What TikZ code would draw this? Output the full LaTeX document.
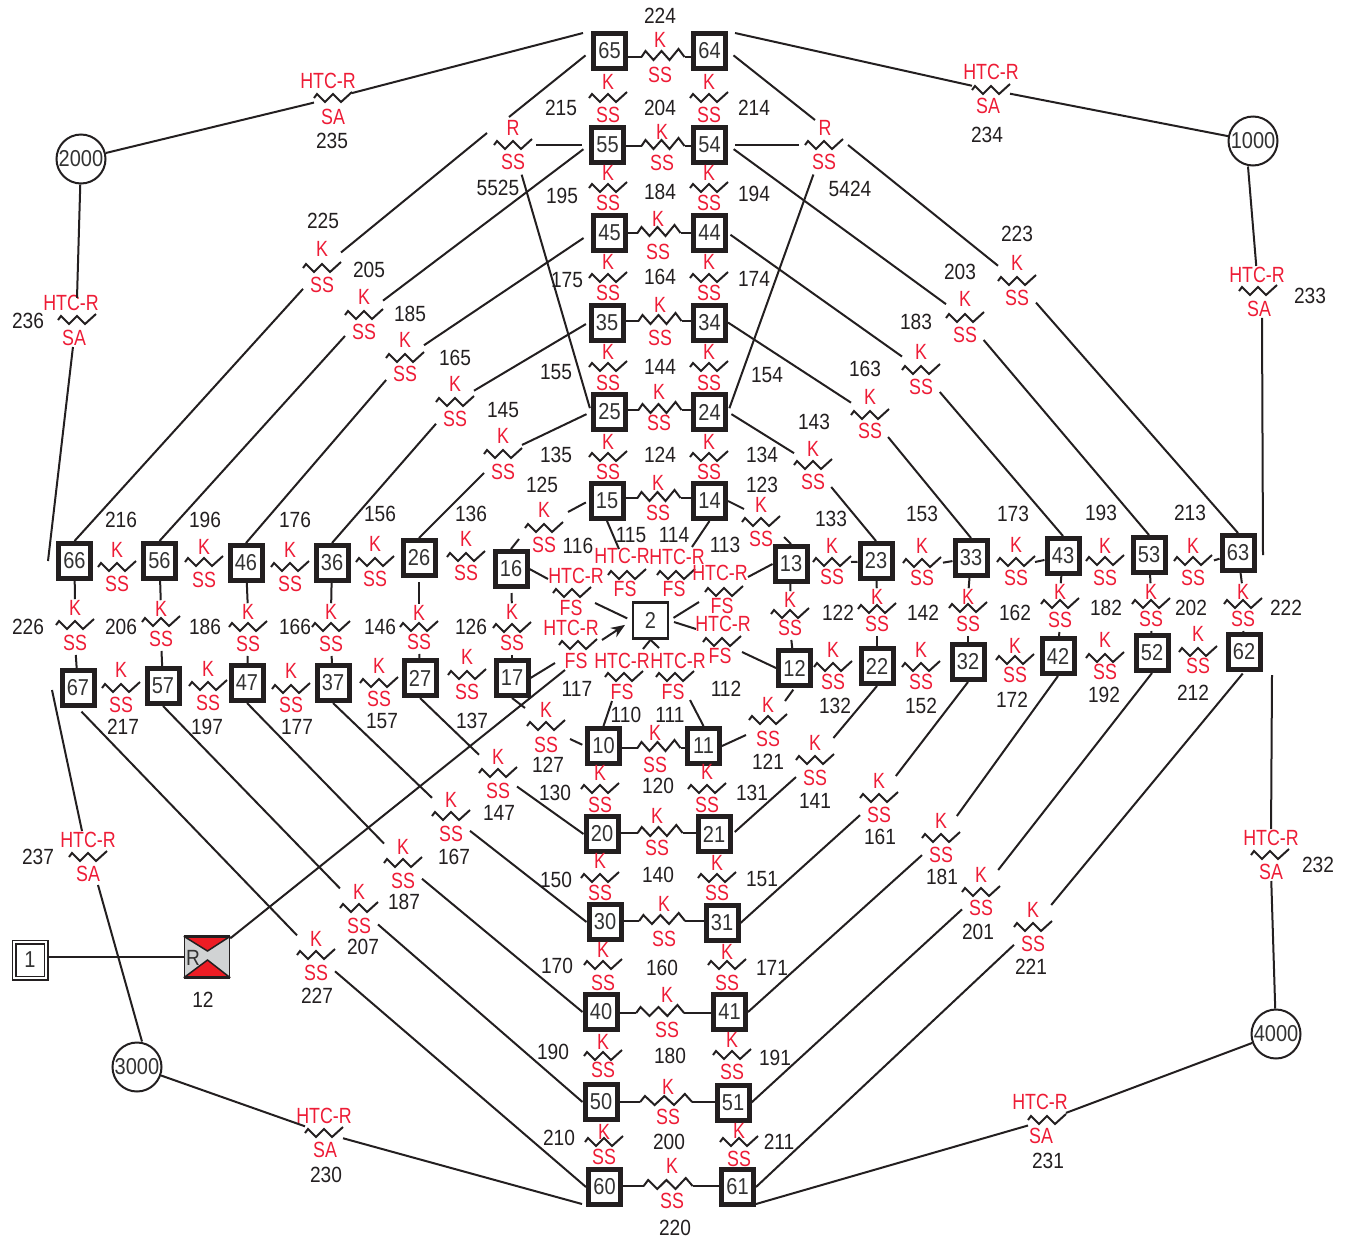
\documentclass[tikz,border=0pt]{standalone}
\usepackage{xcolor}
\usepackage{fontspec}
\usepackage{tikz}
\usetikzlibrary{arrows.meta}
\setmainfont[FakeStretch=0.87]{Liberation Sans}
\newfontfamily\redfont[FakeStretch=0.81]{Liberation Sans}
\definecolor{linedark}{HTML}{231F20}
\definecolor{textgrey}{HTML}{333333}
\definecolor{labelred}{HTML}{ED1C36}
\definecolor{valvegrey}{HTML}{D1D3D4}
\definecolor{valvered}{HTML}{ED1C24}
\tikzset{
  boxnode/.style={draw=linedark, fill=white, line width=5pt, inner sep=0pt, minimum width=32pt, minimum height=35pt, text=textgrey, font=\fontsize{23}{23}\selectfont},
  plantnode/.style={draw=linedark, fill=white, line width=2.5pt, inner sep=0pt, minimum width=35pt, minimum height=36pt, text=textgrey, font=\fontsize{23}{23}\selectfont},
  feednode/.style={draw=linedark, double, double distance=2pt, line width=1.5pt, inner sep=0pt, minimum width=32pt, minimum height=36pt, text=textgrey, font=\fontsize{23}{23}\selectfont},
  ringnode/.style={circle, draw=linedark, fill=white, line width=2pt, inner sep=0pt, minimum size=49pt, text=textgrey, font=\fontsize{23}{23}\selectfont},
  springbox/.style={inner sep=0pt, outer sep=0pt, minimum width=38pt, minimum height=44pt},
  zigline/.style={draw=linedark, line width=2pt},
  redlabel/.style={inner sep=1pt, text=labelred, font=\redfont\fontsize{22}{22}\selectfont},
  numlabel/.style={inner sep=0pt, text=linedark, font=\fontsize{22}{22}\selectfont},
  link/.style={draw=linedark, line width=2pt},
  gaplink/.style={link, shorten <=7pt},
  stub/.style={link, shorten <=3pt}
}
% name, x, y, top text, its x, its y, bottom text, its x, its y
\newcommand{\Spring}[9]{%
  \node[springbox] (#1) at (#2,#3) {};
  \draw[zigline] (#1.west) -- ++(3,-4) -- ++(8,8) -- ++(8,-8) -- ++(8,8) -- ++(11,-10);
  \node[redlabel] (#1t) at (#5,#6) {#4};
  \node[redlabel] (#1b) at (#8,#9) {#7};
}
\newcommand{\KSpring}[5]{\Spring{#1}{#2}{#3}{K}{#2}{#4}{SS}{#2}{#5}}
% [width] name, left node, right node, x, y, text x, top y, bottom y
\newcommand{\LinkSpring}[9][43]{%
  \node[springbox, minimum width=#1pt] (#2) at (#5,#6) {};
  \draw[zigline, xscale=#1/43] (#2.west) -- ++(4,-6) -- ++(8,9) -- ++(8,-9) -- ++(8,9) -- ++(9,-11) -- ++(6,8);
  \node[redlabel] (#2t) at (#7,#8) {K};
  \node[redlabel] (#2b) at (#7,#9) {SS};
  \draw[link] (#2.west -| #3.east) -- (#2.west);
  \draw[link] (#2.east) -- (#2.east -| #4.west);
}
\newcommand{\NumLabel}[3]{\node[numlabel] (l#3) at (#1,#2) {#3};}
\begin{document}
\begin{tikzpicture}[x=1pt, y=-1pt, >=Stealth]
    \useasboundingbox (0,0) rectangle (1347,1240);

    % Centre columns
    \node[boxnode] (n65) at (609.5,51) {65};
    \node[boxnode] (n64) at (709.5,51) {64};
    \node[boxnode] (n55) at (607.5,145) {55};
    \node[boxnode] (n54) at (709.5,145) {54};
    \node[boxnode] (n45) at (609.5,233) {45};
    \node[boxnode] (n44) at (709.5,233) {44};
    \node[boxnode] (n35) at (607,322.5) {35};
    \node[boxnode] (n34) at (709.5,322.5) {34};
    \node[boxnode] (n25) at (609.5,412) {25};
    \node[boxnode] (n24) at (709.5,412) {24};
    \node[boxnode] (n15) at (607,501) {15};
    \node[boxnode] (n14) at (709.5,501) {14};
    \node[boxnode] (n10) at (603.5,746) {10};
    \node[boxnode] (n11) at (703.5,746) {11};
    \node[boxnode] (n20) at (602,834) {20};
    \node[boxnode] (n21) at (714,834) {21};
    \node[boxnode] (n30) at (605,922) {30};
    \node[boxnode] (n31) at (722,923) {31};
    \node[boxnode] (n40) at (601,1012) {40};
    \node[boxnode] (n41) at (729.5,1012) {41};
    \node[boxnode] (n50) at (601,1102) {50};
    \node[boxnode] (n51) at (733,1102.5) {51};
    \node[boxnode] (n60) at (604.5,1187) {60};
    \node[boxnode] (n61) at (737.5,1187) {61};

    % Left rows
    \node[boxnode] (n66) at (74.5,561) {66};
    \node[boxnode] (n56) at (159.5,561) {56};
    \node[boxnode] (n46) at (246,563) {46};
    \node[boxnode] (n36) at (332,563) {36};
    \node[boxnode] (n26) at (419,558) {26};
    \node[boxnode] (n16) at (511,569) {16};
    \node[boxnode] (n67) at (78,688) {67};
    \node[boxnode] (n57) at (163,686) {57};
    \node[boxnode] (n47) at (247,683) {47};
    \node[boxnode] (n37) at (333,683) {37};
    \node[boxnode] (n27) at (420,678) {27};
    \node[boxnode] (n17) at (512,678) {17};

    % Right rows
    \node[boxnode] (n13) at (791,564) {13};
    \node[boxnode] (n23) at (876,561) {23};
    \node[boxnode] (n33) at (971,558) {33};
    \node[boxnode] (n43) at (1063,556) {43};
    \node[boxnode] (n53) at (1149,555) {53};
    \node[boxnode] (n63) at (1238,553) {63};
    \node[boxnode] (n12) at (794.5,668) {12};
    \node[boxnode] (n22) at (877,666) {22};
    \node[boxnode] (n32) at (968,662) {32};
    \node[boxnode] (n42) at (1058,656) {42};
    \node[boxnode] (n52) at (1152,653) {52};
    \node[boxnode] (n62) at (1244,652) {62};

    % Plant, feed, valve and rings
    \node[plantnode] (n2) at (650.5,620.5) {2};
    \node[feednode] (n1) at (30,960) {1};
    \node[draw=linedark, fill=valvegrey, line width=1.5pt, inner sep=0pt, minimum width=45pt, minimum height=40pt] (valve) at (207,957) {};
    \fill[valvered] (valve.north west) -- (valve.north east) -- (207.5,951) -- cycle;
    \fill[valvered] (valve.south west) -- (valve.south east) -- (207.5,960) -- cycle;
    \draw[draw=linedark, line width=1.5pt] (valve.north west) -- (207.5,951) -- (valve.north east);
    \draw[draw=linedark, line width=1.5pt] (valve.south west) -- (207.5,960) -- (valve.south east);
    \draw[draw=linedark, line width=3pt] (valve.north west) -- (valve.north east);
    \draw[draw=linedark, line width=3pt] (valve.south west) -- (valve.south east);
    \node[inner sep=0pt, text=textgrey, font=\fontsize{22}{22}\selectfont] (valvetext) at (193,958) {R};
    \node[ringnode] (r1000) at (1253,141) {1000};
    \node[ringnode] (r2000) at (81,159) {2000};
    \node[ringnode] (r3000) at (137,1067) {3000};
    \node[ringnode] (r4000) at (1276,1034) {4000};

    % Springs with leads
    \LinkSpring{s224}{n65}{n64}{663}{57}{660}{40}{75}
    \LinkSpring{s204}{n55}{n54}{663}{146}{662}{132}{163}
    \LinkSpring{s184}{n45}{n44}{659}{233}{658}{219}{252}
    \LinkSpring{s164}{n35}{n34}{660}{321}{660}{305}{338}
    \LinkSpring{s144}{n25}{n24}{660}{410}{659}{392}{423}
    \LinkSpring{s124}{n15}{n14}{659}{498}{658}{483}{513}
    \LinkSpring{s120}{n10}{n11}{659}{748}{655}{733}{765}
    \LinkSpring[45]{s140}{n20}{n21}{660}{833}{657}{816}{848}
    \LinkSpring[46]{s160}{n30}{n31}{662}{921}{664}{904}{939}
    \LinkSpring[48]{s180}{n40}{n41}{660}{1013}{667}{995}{1030}
    \LinkSpring[52]{s200}{n50}{n51}{666}{1102}{668}{1087}{1117}
    \LinkSpring[49]{s220}{n60}{n61}{668}{1186}{672}{1166}{1201}

    % Springs in the centre columns
    \KSpring{s215}{608}{98}{82}{115}
    \KSpring{s214}{709}{98}{82}{115}
    \KSpring{s195}{608}{188}{173}{203}
    \KSpring{s194}{709}{188}{173}{203}
    \KSpring{s175}{608}{278}{262}{293}
    \KSpring{s174}{709}{278}{262}{293}
    \KSpring{s155}{608}{367}{352}{383}
    \KSpring{s154}{709}{367}{352}{383}
    \KSpring{s135}{608}{457}{442}{472}
    \KSpring{s134}{709}{457}{442}{472}
    \KSpring{s130}{600}{789}{773}{805}
    \KSpring{s131}{707}{789}{772}{805}
    \KSpring{s150}{600}{878}{861}{893}
    \KSpring{s151}{717}{878}{863}{893}
    \KSpring{s170}{603}{965}{950}{983}
    \KSpring{s171}{727}{965}{952}{983}
    \KSpring{s190}{603}{1056}{1042}{1070}
    \KSpring{s191}{732}{1055}{1040}{1072}
    \KSpring{s210}{604}{1142}{1132}{1157}
    \KSpring{s211}{739}{1142}{1131}{1159}

    % Springs in the left rows
    \KSpring{s216}{117}{567}{550}{584}
    \KSpring{s196}{204}{562}{547}{580}
    \KSpring{s176}{290}{567}{550}{584}
    \KSpring{s156}{375}{562}{544}{579}
    \KSpring{s136}{466}{557}{539}{573}
    \KSpring{s226}{75}{625}{608}{643}
    \KSpring{s206}{161}{622}{609}{639}
    \KSpring{s186}{248}{627}{612}{644}
    \KSpring{s166}{331}{627}{612}{644}
    \KSpring{s146}{419}{627}{613}{642}
    \KSpring{s126}{512}{628}{612}{643}
    \KSpring{s217}{121}{688}{670}{705}
    \KSpring{s197}{208}{686}{669}{703}
    \KSpring{s177}{291}{689}{671}{705}
    \KSpring{s157}{379}{683}{666}{699}
    \KSpring{s137}{467}{675}{657}{692}

    % Springs in the right rows
    \KSpring{s133}{832}{562}{546}{577}
    \KSpring{s153}{922}{563}{546}{578}
    \KSpring{s173}{1016}{562}{545}{578}
    \KSpring{s193}{1105}{561}{546}{578}
    \KSpring{s213}{1193}{561}{546}{578}
    \KSpring{s122}{790}{614}{600}{628}
    \KSpring{s142}{877}{609}{597}{624}
    \KSpring{s162}{968}{608}{597}{624}
    \KSpring{s182}{1060}{604}{592}{620}
    \KSpring{s202}{1151}{604}{592}{619}
    \KSpring{s222}{1243}{604}{592}{619}
    \KSpring{s132}{833}{667}{650}{682}
    \KSpring{s152}{921}{667}{650}{682}
    \KSpring{s172}{1015}{660}{646}{675}
    \KSpring{s192}{1105}{658}{640}{672}
    \KSpring{s212}{1198}{652}{634}{666}

    % Springs on the diagonals
    \KSpring{s225}{322}{268}{249}{285}
    \KSpring{s205}{364}{315}{297}{332}
    \KSpring{s185}{405}{358}{340}{374}
    \KSpring{s165}{455}{402}{384}{419}
    \KSpring{s145}{503}{454}{436}{472}
    \KSpring{s125}{544}{528}{510}{545}
    \KSpring{s223}{1017}{281}{263}{298}
    \KSpring{s203}{965}{318}{299}{335}
    \KSpring{s183}{921}{370}{352}{387}
    \KSpring{s163}{870}{415}{397}{431}
    \KSpring{s143}{813}{465}{449}{482}
    \KSpring{s123}{761}{522}{505}{539}
    \KSpring{s227}{316}{955}{939}{973}
    \KSpring{s207}{359}{908}{892}{926}
    \KSpring{s187}{403}{863}{847}{881}
    \KSpring{s167}{451}{816}{800}{834}
    \KSpring{s147}{498}{773}{757}{791}
    \KSpring{s127}{546}{726}{710}{745}
    \KSpring{s121}{768}{720}{705}{739}
    \KSpring{s141}{815}{760}{743}{778}
    \KSpring{s161}{879}{798}{781}{815}
    \KSpring{s181}{941}{838}{821}{855}
    \KSpring{s201}{981}{892}{875}{908}
    \KSpring{s221}{1033}{927}{910}{944}
    \Spring{s5525}{513}{145}{R}{513}{128}{SS}{513}{162}
    \Spring{s5424}{824}{145}{R}{825}{128}{SS}{824}{162}

    % Outer springs
    \Spring{s235}{333}{98}{HTC-R}{328}{81}{SA}{333}{117}
    \Spring{s234}{991}{90}{HTC-R}{991}{72}{SA}{988}{106}
    \Spring{s233}{1258}{291}{HTC-R}{1257}{275}{SA}{1259}{309}
    \Spring{s236}{77}{320}{HTC-R}{71}{303}{SA}{74}{338}
    \Spring{s237}{88}{857}{HTC-R}{88}{840}{SA}{88}{874}
    \Spring{s232}{1270}{855}{HTC-R}{1271}{838}{SA}{1271}{872}
    \Spring{s230}{324}{1133}{HTC-R}{324}{1116}{SA}{325}{1150}
    \Spring{s231}{1047}{1120}{HTC-R}{1040}{1102}{SA}{1041}{1136}

    % Springs round the plant
    \Spring{s115}{627}{575}{HTC-R}{622}{556}{FS}{625}{589}
    \Spring{s114}{676}{575}{HTC-R}{677}{557}{FS}{674}{589}
    \Spring{s113}{724}{592}{HTC-R}{720}{573}{FS}{722}{606}
    \Spring{s116}{572}{593}{HTC-R}{576}{576}{FS}{571}{608}
    \Spring{s117}{578}{645}{HTC-R}{571}{628}{FS}{576}{661}
    \Spring{s112}{722}{642}{HTC-R}{723}{624}{FS}{720}{656}
    \Spring{s110}{624}{677}{HTC-R}{622}{661}{FS}{622}{692}
    \Spring{s111}{675}{677}{HTC-R}{678}{661}{FS}{673}{692}

    % Free ends of connectors
    \coordinate (c65) at (509,117);
    \coordinate (c225) at (487,133);
    \coordinate (c65o) at (583,33);
    \coordinate (c64) at (815,120);
    \coordinate (c223) at (848,145);
    \coordinate (c64o) at (735,33);
    \coordinate (c66) at (48,561);
    \coordinate (c67) at (52,690);
    \coordinate (c60) at (582,1204);
    \coordinate (c61) at (756,1204);
    \coordinate (c62) at (1272,675);
    \coordinate (c63) at (1263,555);
    \coordinate (c237) at (98,885);
    \coordinate (c125a) at (568,512);
    \coordinate (c125b) at (519,539);
    \coordinate (c123a) at (744,509);
    \coordinate (c123b) at (784,537);
    \coordinate (c127a) at (525,708);
    \coordinate (c127b) at (570,739);
    \coordinate (c121a) at (785,701);
    \coordinate (c121b) at (746,735);
    \coordinate (c115) at (619,549);
    \coordinate (c114) at (692,547);
    \coordinate (c113a) at (748,577);
    \coordinate (c113b) at (699,602);
    \coordinate (c116a) at (548,579);
    \coordinate (c116b) at (595,603);
    \coordinate (c117a) at (555,663);
    \coordinate (c117b) at (602,640);
    \coordinate (c117c) at (565,670);
    \coordinate (c112a) at (742,652);
    \coordinate (c112b) at (696,629);
    \coordinate (c110a) at (612,701);
    \coordinate (c110b) at (643,649);
    \coordinate (c111a) at (690,700);
    \coordinate (c111b) at (659,648);

    % Feed line
    \draw[link] (valve.west -| n1.east) -- (valve.west);
    \draw[link] (valve) -- (c117c);

    % Round the plant
    \draw[link] (n15.south) -- (c115);
    \draw[link] (n14.south) -- (c114);
    \draw[link] (n13.west) -- (c113a);
    \draw[link] (n16.east) -- (c116a);
    \draw[link] (n17.east) -- (c117a);
    \draw[link] (n12.west) -- (c112a);
    \draw[link] (n10.north) -- (c110a);
    \draw[link] (n11.north) -- (c111a);
    \draw[link, shorten >=5pt] (c116b) -- (n2.west);
    \draw[link, -{Stealth[length=14pt, width=11pt]}, shorten >=8pt] (c117b) -- (n2.west);
    \draw[link, shorten >=5pt] (c113b) -- (n2.east);
    \draw[link, shorten >=5pt] (c112b) -- (n2.east);
    \draw[link] (c110b) -- (n2.south);
    \draw[link] (c111b) -- (n2.south);

    % Upper left diagonals
    \draw[gaplink] (n65.west) -- (c65);
    \draw[link] (c225) -- (s225);
    \draw[link] (s225) -- (n66.north);
    \draw[gaplink] (n55.west) -- (s205);
    \draw[link] (s205) -- (n56.north);
    \draw[link, shorten <=9pt] (n45.west) -- (s185);
    \draw[link] (s185) -- (n46.north);
    \draw[link, shorten <=3pt] (n35.west) -- (s165);
    \draw[link] (s165) -- (n36.north);
    \draw[link, shorten <=5pt] (n25.west) -- (s145);
    \draw[link] (s145) -- (n26.north);
    \draw[link, shorten <=3pt] (n15.west) -- (c125a);
    \draw[link] (c125b) -- (n16.north);

    % Upper right diagonals
    \draw[gaplink] (n64.east) -- (c64);
    \draw[link] (c223) -- (s223);
    \draw[link] (s223) -- (n63.north);
    \draw[gaplink] (n54.east) -- (s203);
    \draw[link] (s203) -- (n53.north);
    \draw[link, shorten <=3pt] (n44.east) -- (s183);
    \draw[link] (s183) -- (n43.north);
    \draw[link] (n34.east) -- (s163);
    \draw[link] (s163) -- (n33.north);
    \draw[link, shorten <=4pt] (n24.east) -- (s143);
    \draw[link] (s143) -- (n23.north);
    \draw[link] (n14.east) -- (c123a);
    \draw[link] (c123b) -- (n13.north);

    % Links through the R springs
    \draw[link, shorten <=7pt, shorten >=4pt] (n55) -- (s5525);
    \draw[link, shorten <=7pt, shorten >=6pt] (n54) -- (s5424);
    \draw[link, shorten <=8pt, shorten >=4pt] (s5525) -- (n25.west);
    \draw[link, shorten <=8pt, shorten >=4pt] (s5424) -- (n24.east);

    % Lower left diagonals
    \draw[link, shorten <=5pt] (n67.south) -- (s227);
    \draw[link] (s227) -- (n60.west);
    \draw[link] (n57.south) -- (s207);
    \draw[link] (s207) -- (n50.west);
    \draw[link] (n47.south) -- (s187);
    \draw[link] (s187) -- (n40.west);
    \draw[link] (n37.south) -- (s167);
    \draw[link] (s167) -- (n30.west);
    \draw[link] (n27.south) -- (s147);
    \draw[link] (s147) -- (n20.west);
    \draw[link] (n17.south) -- (c127a);
    \draw[link, shorten >=3pt] (c127b) -- (n10.west);

    % Lower right diagonals
    \draw[link, shorten <=2pt] (n62.south) -- (s221);
    \draw[link] (s221) -- (n61.east);
    \draw[link] (n52.south) -- (s201);
    \draw[link] (s201) -- (n51.east);
    \draw[link] (n42.south) -- (s181);
    \draw[link] (s181) -- (n41.east);
    \draw[link] (n32.south) -- (s161);
    \draw[link] (s161) -- (n31.east);
    \draw[link] (n22.south) -- (s141);
    \draw[link, shorten >=3pt] (s141) -- (n21.east);
    \draw[link, shorten <=2pt] (n12.south) -- (c121a);
    \draw[link] (c121b) -- (n11.east);

    % Outer ring
    \draw[link] (c65o) -- (s235);
    \draw[link] (s235) -- (r2000);
    \draw[link] (r2000) -- (s236.north);
    \draw[link] (s236b) -- (c66);
    \draw[link] (c64o) -- (s234);
    \draw[link] (s234) -- (r1000);
    \draw[link] ([xshift=-5pt]r1000.south) -- (s233t);
    \draw[link] ([xshift=3pt]s233b.south) -- (c63);
    \draw[link] (r4000) -- (s232b);
    \draw[link] (s232t) -- (c62);
    \draw[link] (r4000) -- (s231);
    \draw[link] (s231) -- (c61);
    \draw[link] (r3000) -- (s230);
    \draw[link] (s230) -- (c60);
    \draw[link] (c237) -- ([xshift=5pt]r3000.north);
    \draw[link] ([xshift=-6pt]s237t.north) -- (c67);

    % Stubs on the gap springs
    \draw[link] (n66) -- (s226t);
    \draw[stub] (s226b) -- (n67);
    \draw[link] (n56) -- (s206t);
    \draw[stub] (s206b) -- (n57);
    \draw[link] (n46) -- (s186t);
    \draw[stub] (s186b) -- (n47);
    \draw[link] (n36) -- (s166t);
    \draw[stub] (s166b) -- (n37);
    \draw[link, shorten <=4pt] (n26) -- (s146t);
    \draw[stub] (s146b) -- (n27);
    \draw[link, shorten <=4pt] (n16) -- (s126t);
    \draw[stub] (s126b) -- (n17);
    \draw[link] (n13) -- (s122t);
    \draw[stub] (s122b) -- (n12);
    \draw[link] (n23) -- (s142t);
    \draw[stub] (s142b) -- (n22);
    \draw[link] (n33) -- (s162t);
    \draw[stub] (s162b) -- (n32);
    \draw[link] (n43) -- (s182t);
    \draw[stub] (s182b) -- (n42);
    \draw[link] (n53) -- (s202t);
    \draw[stub] (s202b) -- (n52);
    \draw[link] (n63) -- (s222t);
    \draw[stub] (s222b) -- (n62);
    \draw[link] (s133.east) -- (n23);
    \draw[link, shorten <=2pt] (s153.east) -- (n33);
    \draw[link] (s173.east) -- (n43);
    \draw[link, shorten <=2pt] (s213.east) -- (n63);

    % Numbers
    \NumLabel{660}{16}{224} \NumLabel{561}{108}{215} \NumLabel{660}{108}{204} \NumLabel{754}{108}{214}
    \NumLabel{498}{188}{5525} \NumLabel{562}{196}{195} \NumLabel{660}{192}{184} \NumLabel{754}{194}{194}
    \NumLabel{850}{189}{5424} \NumLabel{567}{280}{175} \NumLabel{660}{277}{164} \NumLabel{754}{279}{174}
    \NumLabel{556}{372}{155} \NumLabel{660}{367}{144} \NumLabel{767}{375}{154} \NumLabel{503}{410}{145}
    \NumLabel{556}{455}{135} \NumLabel{660}{455}{124} \NumLabel{762}{455}{134} \NumLabel{542}{485}{125}
    \NumLabel{762}{485}{123} \NumLabel{578}{546}{116} \NumLabel{631}{535}{115} \NumLabel{674}{535}{114}
    \NumLabel{725}{545}{113} \NumLabel{577}{689}{117} \NumLabel{726}{689}{112} \NumLabel{626}{715}{110}
    \NumLabel{670}{715}{111}
    \NumLabel{121}{520}{216} \NumLabel{205}{520}{196} \NumLabel{295}{520}{176} \NumLabel{380}{514}{156}
    \NumLabel{471}{514}{136} \NumLabel{28}{627}{226} \NumLabel{121}{627}{206} \NumLabel{205}{627}{186}
    \NumLabel{295}{627}{166} \NumLabel{380}{627}{146} \NumLabel{471}{627}{126} \NumLabel{123}{727}{217}
    \NumLabel{207}{727}{197} \NumLabel{297}{727}{177} \NumLabel{382}{721}{157} \NumLabel{472}{721}{137}
    \NumLabel{548}{765}{127} \NumLabel{499}{813}{147} \NumLabel{454}{857}{167} \NumLabel{404}{902}{187}
    \NumLabel{363}{947}{207} \NumLabel{317}{996}{227} \NumLabel{203}{1000}{12}
    \NumLabel{768}{762}{121} \NumLabel{658}{786}{120} \NumLabel{555}{793}{130} \NumLabel{752}{793}{131}
    \NumLabel{658}{875}{140} \NumLabel{556}{880}{150} \NumLabel{762}{879}{151} \NumLabel{662}{968}{160}
    \NumLabel{557}{966}{170} \NumLabel{772}{968}{171} \NumLabel{670}{1056}{180} \NumLabel{553}{1052}{190}
    \NumLabel{775}{1058}{191} \NumLabel{669}{1142}{200} \NumLabel{559}{1138}{210} \NumLabel{779}{1142}{211}
    \NumLabel{675}{1228}{220}
    \NumLabel{326}{1175}{230} \NumLabel{1048}{1161}{231} \NumLabel{1318}{865}{232} \NumLabel{1310}{296}{233}
    \NumLabel{987}{135}{234} \NumLabel{332}{141}{235} \NumLabel{28}{321}{236} \NumLabel{38}{857}{237}
    \NumLabel{815}{801}{141} \NumLabel{880}{837}{161} \NumLabel{942}{877}{181} \NumLabel{978}{932}{201}
    \NumLabel{1031}{967}{221}
    \NumLabel{323}{221}{225} \NumLabel{369}{270}{205} \NumLabel{410}{314}{185} \NumLabel{455}{358}{165}
    \NumLabel{1017}{234}{223} \NumLabel{960}{272}{203} \NumLabel{916}{322}{183} \NumLabel{865}{369}{163}
    \NumLabel{814}{422}{143}
    \NumLabel{831}{519}{133} \NumLabel{922}{514}{153} \NumLabel{1013}{514}{173} \NumLabel{1101}{513}{193}
    \NumLabel{1190}{513}{213}
    \NumLabel{838}{613}{122} \NumLabel{923}{613}{142} \NumLabel{1015}{613}{162} \NumLabel{1106}{608}{182}
    \NumLabel{1191}{608}{202} \NumLabel{1286}{608}{222}
    \NumLabel{835}{706}{132} \NumLabel{921}{706}{152} \NumLabel{1012}{700}{172} \NumLabel{1104}{695}{192}
    \NumLabel{1193}{693}{212}
\end{tikzpicture}
\end{document}
